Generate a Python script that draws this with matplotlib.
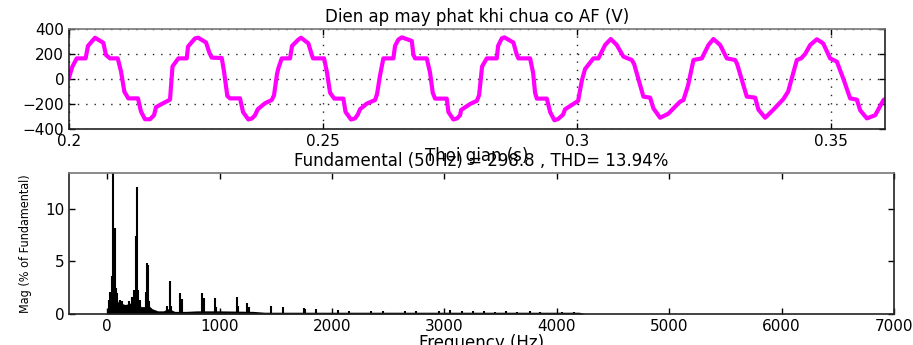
import matplotlib
matplotlib.use("Agg")
import matplotlib.pyplot as plt
from matplotlib import font_manager as fm

# ---- top panel: generator voltage ----
time_s = [
    0.2000, 0.20065, 0.20152, 0.20327, 0.20374, 0.20512, 0.20675, 0.20728, 0.20807, 0.20959, 0.21024,
    0.21089, 0.21167, 0.21358, 0.21417, 0.21496, 0.21594, 0.21673, 0.21713, 0.21825, 0.21988, 0.22037,
    0.22152, 0.22317, 0.22343, 0.2248, 0.22545, 0.22697, 0.22762, 0.22809, 0.23006, 0.23051, 0.23116,
    0.23169, 0.23366, 0.23425, 0.2353, 0.23602, 0.23661, 0.23715, 0.23858, 0.2399, 0.24035, 0.24094,
    0.24120, 0.24187, 0.24350, 0.24390, 0.24514, 0.24567, 0.24711, 0.24778, 0.24803, 0.2502, 0.25079,
    0.25138, 0.25222, 0.25400, 0.25443, 0.25551, 0.2563, 0.25683, 0.25728, 0.2586, 0.26024, 0.26063, 0.26122,
    0.26187, 0.26384, 0.26417, 0.26482, 0.26549, 0.26746, 0.26778, 0.26811, 0.27041, 0.27106, 0.27159,
    0.27205, 0.27435, 0.27467, 0.27565, 0.27638, 0.27697, 0.27717, 0.27894, 0.28026, 0.28071, 0.28130, 0.28222,
    0.28419, 0.28445, 0.28518, 0.28569, 0.28746, 0.28813, 0.28845, 0.29075, 0.29134, 0.29173, 0.29207,
    0.29404, 0.29469, 0.29553, 0.29626, 0.29724, 0.29764, 0.29927, 0.3002, 0.30093, 0.30157, 0.30321,
    0.30419, 0.30551, 0.30663, 0.30781, 0.30911, 0.31077, 0.31122, 0.31305, 0.31437, 0.31502, 0.31634,
    0.31797, 0.31896, 0.32028, 0.32093, 0.32185, 0.3229,
    0.32455, 0.32585, 0.32683, 0.32815, 0.32947, 0.3311, 0.3315, 0.3334, 0.33504, 0.33569, 0.33701,
    0.33864, 0.34061, 0.34154, 0.34325, 0.34409, 0.34488,
    0.34587, 0.34719, 0.34843, 0.34980, 0.35112, 0.35242, 0.35374, 0.35506, 0.35571, 0.35703, 0.35866,
    0.36030, 0.36063,
]
voltage_v = [
    10, 98, 165, 165, 265, 330, 290, 192, 165, 165, 60,
    -101, -155, -155, -261, -322, -322, -290, -225, -200, -165, 100,
    165, 165, 260, 325, 330, 292, 211, 171, 168, 60, -136,
    -155, -155, -264, -324, -315, -290, -242, -194, -168, -130, 40,
    85, 165, 165, 265, 315, 330, 285, 194, 165, 165, 50,
    -110, -157, -157, -264, -324, -315, -285, -242, -197, -168, -120, 30,
    165, 165, 265, 315, 333, 305, 195, 165, 165, 50, -110,
    -157, -157, -264, -324, -315, -290, -248, -200, -175, -130, 100, 165,
    165, 265, 325, 333, 292, 194, 165, 165, 50, -110, -157,
    -157, -264, -330, -320, -285, -242, -200, -175, -13, 80, 165,
    165, 272, 320, 272, 179, 152, 120, -141, -149, -235, -310,
    -277, -235, -181, -168, -50, 152,
    165, 272, 320, 272, 165, 152, 120, -141, -149, -245, -310,
    -245, -160, -100, 152, 165, 200,
    272, 318, 285, 165, 139, 0, -155, -165, -250, -315, -290,
    -168, -160,
]

# ---- bottom panel: FFT spectrum ----
harm_freq = [12, 21, 42, 51, 65, 74, 87, 110, 131, 190, 220, 241, 253, 262, 274, 289,
             348, 354, 360, 375, 533, 557, 568, 652, 664, 845, 860, 955, 967,
             1152, 1164, 1247, 1262, 1455, 1560, 1753, 1763, 1857, 2051, 2155,
             2348, 2450, 2646, 2750, 2950, 3050, 3160, 3250, 3350, 3450, 3550,
             3650, 3760, 3850, 4050, 4150]
harm_mag = [1.3, 2.1, 3.6, 100.0, 8.2, 2.5, 2.0, 1.3, 1.2, 1.2, 1.65, 2.3, 7.4, 12.1, 2.3, 1.3,
            2.1, 4.8, 4.7, 1.2, 0.75, 3.1, 0.8, 2.0, 1.4, 2.0, 1.5, 1.5, 0.7,
            1.6, 0.8, 1.05, 0.7, 0.75, 0.7, 0.55, 0.45, 0.5, 0.35, 0.3,
            0.3, 0.3, 0.3, 0.3, 0.25, 0.35, 0.25, 0.3, 0.25, 0.2, 0.25,
            0.2, 0.25, 0.2, 0.2, 0.2]
floor_freq = [5, 8, 30, 80, 100, 130, 160, 200, 230, 280, 300, 330, 370, 400, 450,
              500, 540, 570, 600, 700, 800, 1000, 1300, 1400, 4200, 4250]
floor_mag = [0.0, 1.2, 1.5, 1.5, 1.1, 1.0, 0.9, 1.0, 1.3, 1.1, 0.7, 0.7, 0.8, 0.5, 0.3,
             0.3, 0.5, 0.4, 0.25, 0.25, 0.3, 0.3, 0.25, 0.17, 0.17, 0.0]

top_title = "Dien ap may phat khi chua co AF (V)"
top_xlabel = "Thoi gian (s)"
bot_title = "Fundamental (50Hz) = 298.8 , THD= 13.94%"
bot_xlabel = "Frequency (Hz)"
bot_ylabel = "Mag (% of Fundamental)"

plt.rcParams['font.family'] = ['DejaVu Sans']
tick_fs = 11
title_fs = 12

# the y label in the original is a narrow face; use one if it is installed
narrow_path = fm.findfont(fm.FontProperties(family='DejaVu Sans', stretch='condensed'))
if 'Condensed' in narrow_path:
    ylab_kw = dict(family='DejaVu Sans', fontstretch='condensed', fontsize=9)
else:
    ylab_kw = dict(family='DejaVu Sans', fontsize=8.4)

fig = plt.figure(figsize=(9.13, 3.45), dpi=100)

# top axes
ax1 = fig.add_axes([69 / 913, 1 - 129 / 345, (885 - 69) / 913, 100 / 345])
ax1.plot(time_s, voltage_v, color='#ff00ff', lw=3.0)
ax1.set_xlim(0.2, 0.3606)
ax1.set_ylim(-400, 400)
ax1.set_xticks([0.2, 0.25, 0.3, 0.35])
ax1.set_xticklabels(['0.2', '0.25', '0.3', '0.35'])
ax1.set_yticks([-400, -200, 0, 200, 400])
ax1.grid(True, color='#222222', linestyle=(0, (1, 5)), lw=1.0)
ax1.set_title(top_title, fontsize=title_fs, pad=5)
ax1.set_xlabel(top_xlabel, fontsize=title_fs, labelpad=-1)

# bottom axes
ax2 = fig.add_axes([69 / 913, 1 - 314 / 345, (894 - 69) / 913, 141 / 345])
ax2.fill_between(floor_freq, floor_mag, color='black', lw=0)
ax2.vlines(harm_freq, 0, harm_mag, color='black', lw=1.5)
ax2.set_xlim(-340, 7000)
ax2.set_ylim(0, 13.4)
ax2.set_xticks(range(0, 7001, 1000))
ax2.set_yticks([0, 5, 10])
ax2.set_title(bot_title, fontsize=title_fs, pad=5)
ax2.set_xlabel(bot_xlabel, fontsize=title_fs, labelpad=0)
ax2.set_ylabel(bot_ylabel, labelpad=9, **ylab_kw)

for ax in (ax1, ax2):
    ax.tick_params(direction='in', top=True, right=True, length=4,
                   labelsize=tick_fs, width=1.0)
    for side in ('left', 'bottom', 'right'):
        ax.spines[side].set_color('#222222')
        ax.spines[side].set_linewidth(1.2)
    ax.spines['top'].set_color('#777777')
    ax.spines['top'].set_linewidth(1.2)

fig.savefig('out.png', dpi=100)
